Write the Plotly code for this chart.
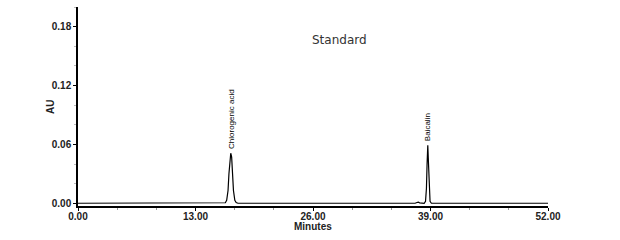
import plotly.graph_objects as go

# Chromatogram trace (minutes, AU)
time_min = [0.0, 15.8, 16.3, 16.45, 16.6, 16.7, 16.8, 16.9, 17.0, 17.1, 17.2, 17.35, 17.5, 17.7,
            37.3, 37.5, 37.65, 37.8, 38.3, 38.45, 38.55, 38.62, 38.7, 38.78, 38.85, 38.95, 39.1, 52.0]
absorb_au = [0.0, 0.0, 0.0005, 0.003, 0.013, 0.030, 0.046, 0.051, 0.047, 0.031, 0.013, 0.003, 0.0007, 0.0,
             0.0, 0.0008, 0.0012, 0.0004, 0.0, 0.002, 0.015, 0.040, 0.059, 0.040, 0.014, 0.002, 0.0, 0.0]

peak_names = ["Chlorogenic acid", "Baicalin"]
peak_times = [16.9, 38.7]
peak_heights = [0.051, 0.059]

x_ticks = [0, 13, 26, 39, 52]
x_tick_text = ["0.00", "13.00", "26.00", "39.00", "52.00"]
y_ticks = [0.0, 0.06, 0.12, 0.18]
y_tick_text = ["0.00", "0.06", "0.12", "0.18"]

fig = go.Figure()
fig.add_trace(go.Scatter(x=time_min, y=absorb_au, mode="lines",
                         line=dict(color="black", width=1.2), showlegend=False,
                         hoverinfo="skip"))

for name, t, h in zip(peak_names, peak_times, peak_heights):
    fig.add_annotation(x=t, y=h, text=name, showarrow=False, textangle=-90,
                       xanchor="center", yanchor="bottom", yshift=2,
                       font=dict(family="Liberation Sans", size=8, color="black"))

fig.add_annotation(x=0.557, y=0.834, xref="paper", yref="paper", text="Standard",
                   showarrow=False, xanchor="center", yanchor="middle",
                   font=dict(family="DejaVu Sans", size=12, color="#333333"))

title_font = dict(family="Liberation Sans", size=10, color="#222222")
fig.add_annotation(x=0.5, y=-0.103, xref="paper", yref="paper", text="<b>Minutes</b>",
                   showarrow=False, xanchor="center", yanchor="middle", font=title_font)
fig.add_annotation(x=-0.0596, y=0.497, xref="paper", yref="paper", text="<b>AU</b>",
                   showarrow=False, xanchor="center", yanchor="middle", textangle=-90,
                   font=title_font)

axis_font = dict(family="Liberation Sans", size=10, color="#222222")
fig.update_xaxes(range=[0, 52], tickvals=x_ticks, ticktext=["<b>%s</b>" % t for t in x_tick_text],
                 showline=True, linecolor="black", linewidth=1.5, showgrid=False,
                 zeroline=False, ticks="outside", ticklen=3, tickcolor="black",
                 tickfont=axis_font, ticklabelstandoff=-3,
                 minor=dict(dtick=13/3, tick0=0, ticks="outside", ticklen=2, tickcolor="#999999"))
fig.update_yaxes(range=[-0.0028, 0.2], tickvals=y_ticks, ticktext=["<b>%s</b>" % t for t in y_tick_text],
                 showline=True, linecolor="black", linewidth=1.5, showgrid=False,
                 zeroline=False, ticks="outside", ticklen=3, tickcolor="black",
                 tickfont=axis_font,
                 minor=dict(dtick=0.02, tick0=0, ticks="outside", ticklen=2, tickcolor="#bbbbbb"))

fig.update_layout(width=620, height=240, margin=dict(l=78, r=72, t=7, b=34),
                  plot_bgcolor="white", paper_bgcolor="white")

fig.write_html("out.html")
